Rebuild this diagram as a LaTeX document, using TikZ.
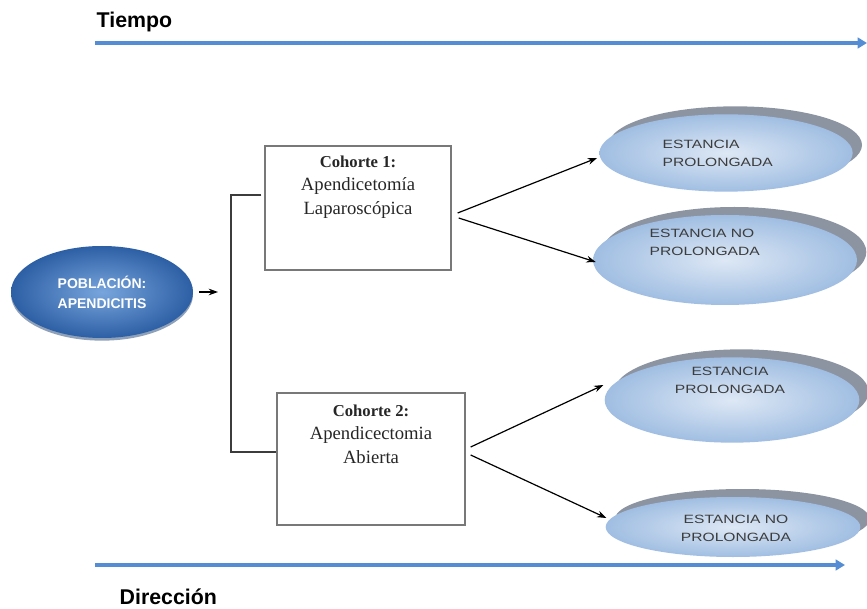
\documentclass[tikz,border=0pt]{standalone}
\usepackage{fontspec}
\setmainfont{Liberation Serif}
\setsansfont{Liberation Sans}
\newfontfamily\estfont[FakeStretch=1.3]{Liberation Sans}
\usetikzlibrary{arrows.meta,shapes.geometric,shadows}

\definecolor{ejeazul}{RGB}{84,141,212}
\definecolor{pobclaro}{RGB}{120,165,220}
\definecolor{pobosc}{RGB}{45,95,165}
\definecolor{estclaro}{RGB}{222,232,245}
\definecolor{estosc}{RGB}{160,190,226}
\definecolor{sombra}{RGB}{140,148,162}
\definecolor{textogris}{RGB}{60,60,60}

\begin{document}
\begin{tikzpicture}[x=0.75pt,y=0.75pt,yscale=-1,xscale=1,
  eje/.style={color=ejeazul,line width=3pt,-{Triangle[length=7pt,width=8pt]}},
  flecha/.style={line width=0.9pt,-{Stealth[length=7pt,width=5pt]}},
  llave/.style={color={rgb,255:red,60;green,60;blue,60},line width=1pt},
  cohorte/.style={draw={rgb,255:red,120;green,120;blue,120},line width=1pt,inner sep=0pt},
  cohtxt/.style={anchor=north,align=center,font=\fontsize{14}{17.5}\selectfont,text=black!85},
  poblacion/.style={ellipse,inner sep=0pt,minimum width=136.5pt,minimum height=69pt,
    inner color=pobclaro,outer color=pobosc,
    drop shadow={shadow xshift=0pt,shadow yshift=-2pt,fill=pobosc!70!black,opacity=0.5},
    align=center,text=white,font=\sffamily\bfseries\fontsize{10.5}{15}\selectfont},
  estancia/.style={ellipse,inner sep=0pt,inner color=estclaro,outer color=estosc,
    drop shadow={shadow xshift=7pt,shadow yshift=6pt,fill=sombra,opacity=1}},
  esttxt/.style={text=textogris,font=\estfont\fontsize{9}{13.5}\selectfont}]
\useasboundingbox (0,0) rectangle (867,609);

%Tiempo
\node[anchor=west,font=\sffamily\bfseries\fontsize{16}{19}\selectfont] (tiempo) at (92,22) {Tiempo};
\coordinate (t0) at (95,43);
\coordinate (t1) at (867,43);
\draw[eje] (t0) -- (t1);

%Direccion
\node[anchor=west,font=\sffamily\bfseries\fontsize{16}{19}\selectfont] (direccion) at (115,597) {Dirección};
\coordinate (d0) at (95,565);
\coordinate (d1) at (845,565);
\draw[eje] (d0) -- (d1);

%Poblacion
\node[poblacion] (pob) at (102,292) {POBLACIÓN:\\APENDICITIS};
\coordinate (split) at (231,292);
\draw[flecha,shorten >=9.75pt] ([shift={(6,0)}]pob.east) -- (split);

%Cohortes
\node[cohorte,minimum width=139.5pt,minimum height=93pt] (box1) at (358,208) {};
\node[cohtxt] (box1txt) at ([shift={(0,6)}]box1.north) {{\bfseries\fontsize{12.5}{17.5}\selectfont Cohorte 1:}\\Apendicetomía\\Laparoscópica};
\node[cohorte,minimum width=141pt,minimum height=99pt] (box2) at (371,459) {};
\node[cohtxt] (box2txt) at ([shift={(0,8)}]box2.north) {{\bfseries\fontsize{12.5}{16.5}\selectfont Cohorte 2:}\\Apendicectomia\\Abierta};
\draw[llave] ([shift={(-3,-13)}]box1.west) -| (split) |- ([shift={(0,-7)}]box2.west);

%Estancias
\node[estancia,minimum width=190pt,minimum height=58pt] (e1) at (726,153) {};
\node[esttxt,anchor=west,align=left] (e1txt) at (658,153) {ESTANCIA\\PROLONGADA};
\node[estancia,minimum width=198pt,minimum height=67.5pt] (e2) at (725,260) {};
\node[esttxt,anchor=west,align=left] (e2txt) at (645,242) {ESTANCIA NO\\PROLONGADA};
\node[estancia,minimum width=191pt,minimum height=64pt] (e3) at (732,400) {};
\node[esttxt,align=center] (e3txt) at (730,380) {ESTANCIA\\PROLONGADA};
\node[estancia,minimum width=191pt,minimum height=45pt] (e4) at (733,527) {};
\node[esttxt,align=center] (e4txt) at (736,528) {ESTANCIA NO\\PROLONGADA};

%Flechas
\draw[flecha] ([shift={(6,5)}]box1.east) -- ([shift={(-2,5)}]e1.west);
\draw[flecha] ([shift={(7,10)}]box1.east) -- ([shift={(3,2)}]e2.west);
\draw[flecha] ([shift={(5,-12)}]box2.east) -- ([shift={(-1,-15)}]e3.west);
\draw[flecha] ([shift={(5,-4)}]box2.east) -- ([shift={(1,-9)}]e4.west);

\end{tikzpicture}
\end{document}
